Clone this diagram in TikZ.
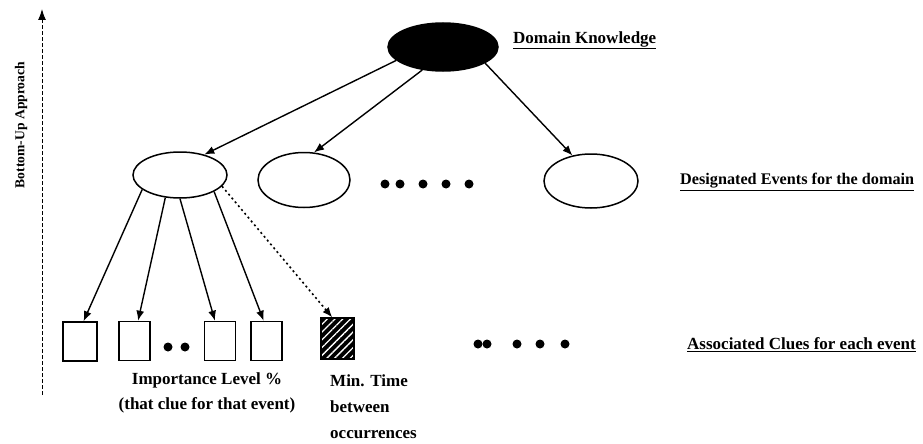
\documentclass[tikz,border=0pt]{standalone}
\usepackage{fontspec}
\setmainfont{Liberation Serif}
\usetikzlibrary{shapes.geometric,arrows.meta,patterns.meta}

\tikzset{
  evt/.style={ellipse, draw, line width=1.5pt, inner sep=0pt},
  clue/.style={rectangle, draw, line width=1.6pt, inner sep=0pt,
               minimum width=32pt, minimum height=39pt},
  arr/.style={line width=1.4pt, -{Latex[length=10pt,width=8pt]}},
  dotarr/.style={arr, line width=1.6pt, dash pattern=on 2pt off 3pt},
  lbl/.style={font=\bfseries\fontsize{17}{20}\selectfont, inner sep=0pt},
  dot/.style={circle, fill=black, inner sep=0pt, minimum size=9pt},
}

\begin{document}
\begin{tikzpicture}[x=1pt, y=-1pt]
\useasboundingbox (0,0) rectangle (923,444);

% upward axis
\coordinate (axbot) at (42,395);
\coordinate (axtop) at (42,9);
\draw[line width=1pt, dash pattern=on 4pt off 2pt, -{Latex[length=11pt,width=8pt]}] (axbot) -- (axtop);
\node[rotate=90, font=\bfseries\fontsize{13.6}{15}\selectfont] (axlbl) at (21,125) {Bottom-Up Approach};

% domain node
\node[evt, fill=black, minimum width=110pt, minimum height=48pt] (dk) at (443,47) {};
\node[lbl, anchor=west] (dklbl) at (513,40) {\underline{Domain Knowledge}};

% event nodes
\node[evt, minimum width=94pt, minimum height=46pt] (e1) at (180,175) {};
\node[evt, minimum width=92pt, minimum height=55pt] (e2) at (304,180) {};
\node[evt, minimum width=94pt, minimum height=54pt] (e3) at (591,181) {};
\node[lbl, anchor=west, font=\bfseries\fontsize{16.2}{19}\selectfont] (evlbl) at (680,182) {\underline{Designated Events for the domain}};

\foreach \x [count=\i] in {385,400,423,446,469}
  \node[dot] (ed\i) at (\x,184) {};

\draw[arr] (dk.196) -- (e1.40);
\draw[arr] (dk.228) -- (e2.70);
\draw[arr] (dk.339) -- (e3.126);

% clue boxes
\node[clue, minimum width=34pt] (b1) at (80,341.5) {};
\node[clue, minimum width=31pt] (b2) at (134.5,341) {};
\node[clue, minimum width=31pt] (b3) at (220,341) {};
\node[clue, minimum width=31pt] (b4) at (266.5,341) {};
\node[clue, line width=2.2pt, minimum width=33pt, minimum height=41pt,
      preaction={fill=black},
      pattern={Lines[angle=45,distance=5.5pt,line width=1.3pt]}, pattern color=white] (bt) at (337.5,338.5) {};

\node[dot] (cd1) at (168,347) {};
\node[dot] (cd2) at (185,347) {};
\foreach \x [count=\i] in {478,487,517,540,565}
  \node[dot] (rd\i) at (\x,344) {};

\node[lbl, anchor=west] (cllbl) at (687,345) {\underline{Associated Clues for each event}};

\draw[arr] (e1.201) -- (b1.80);
\draw[arr] (e1.237) -- (b2.80);
\draw[arr] (e1.270) -- (b3.104);
\draw[arr] (e1.334) -- (b4.98);
\draw[dotarr] (e1.345) -- (bt.104);

% notes under the boxes
\node[lbl, align=center] (imp) at (207,393) {Importance Level \%\\[5pt](that clue for that event)};
\node[lbl, align=left, anchor=north west] (mint) at (330,374) {Min. Time\\[6pt]between\\[6pt]occurrences};
\end{tikzpicture}
\end{document}
